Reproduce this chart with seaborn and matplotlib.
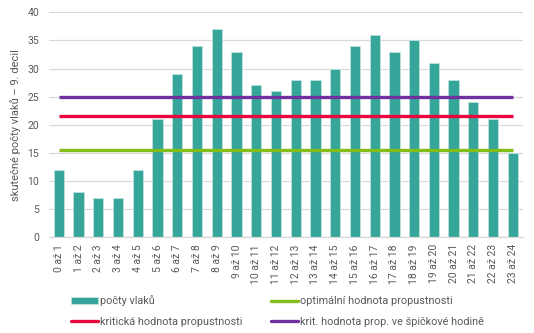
import matplotlib
matplotlib.use("Agg")
import matplotlib.pyplot as plt
import seaborn as sns
import pandas as pd
from matplotlib.patches import Patch
from matplotlib.lines import Line2D

hours = [f"{i} až {i+1}" for i in range(24)]
trains = [12, 8, 7, 7, 12, 21, 29, 34, 37, 33, 27, 26, 28, 28, 30, 34, 36, 33, 35, 31, 28, 24, 21, 15]
optimal = 15.5
critical = 21.5
critical_peak = 25

bar_color = "#36A59A"
c_opt = "#84BC1A"
c_crit = "#E8083E"
c_peak = "#7030A0"
grey = "#595959"

sns.set_theme(style="white")
plt.rcParams['font.family'] = ['Roboto', 'DejaVu Sans']

df = pd.DataFrame({"hour": hours, "trains": trains})

fig = plt.figure(figsize=(5.34, 3.33), dpi=100)
ax = fig.add_axes([0.0918, 0.2874, 0.887, 0.6756])

sns.barplot(data=df, x="hour", y="trains", color=bar_color, width=0.52,
            edgecolor="#BFE3DF", linewidth=0.6, saturation=1, ax=ax, zorder=2)

ax.hlines(optimal, 0, len(hours) - 1, color=c_opt, lw=2.4, zorder=3)
ax.hlines(critical, 0, len(hours) - 1, color=c_crit, lw=2.4, zorder=3)
ax.hlines(critical_peak, 0, len(hours) - 1, color=c_peak, lw=2.4, zorder=3)

ax.set_ylim(0, 40)
ax.set_yticks(range(0, 41, 5))
ax.set_xlim(-0.5, len(hours) - 0.5)
ax.yaxis.grid(True, color="#D9D9D9", lw=0.9, zorder=0)
ax.set_axisbelow(True)
for s in ["top", "right", "left"]:
    ax.spines[s].set_visible(False)
ax.spines["bottom"].set_color("#D9D9D9")
ax.spines["bottom"].set_linewidth(0.9)
ax.tick_params(axis="y", length=0, labelsize=7.5, colors=grey, pad=7)
ax.tick_params(axis="x", length=0, labelsize=7.5, colors=grey, pad=5)
plt.setp(ax.get_xticklabels(), rotation=90)
ax.set_xlabel("")
ax.set_ylabel("skutečné počty vlaků – 9. decil", fontsize=8, color=grey, labelpad=5)

handles = [
    Patch(facecolor=bar_color, edgecolor="#BFE3DF", lw=0.6),
    Line2D([0], [0], color=c_crit, lw=2.4),
    Line2D([0], [0], color=c_opt, lw=2.4),
    Line2D([0], [0], color=c_peak, lw=2.4),
]
labels = ["počty vlaků", "kritická hodnota propustnosti",
          "optimální hodnota propustnosti", "krit. hodnota prop. ve špičkové hodině"]
leg = fig.legend(handles, labels, ncol=2, loc="lower left", bbox_to_anchor=(0.115, -0.012),
                 frameon=False, fontsize=7.8, handlelength=2.5, handletextpad=0.2,
                 columnspacing=2.6, labelspacing=1.0, labelcolor=grey)

fig.savefig("out.png", dpi=100)
